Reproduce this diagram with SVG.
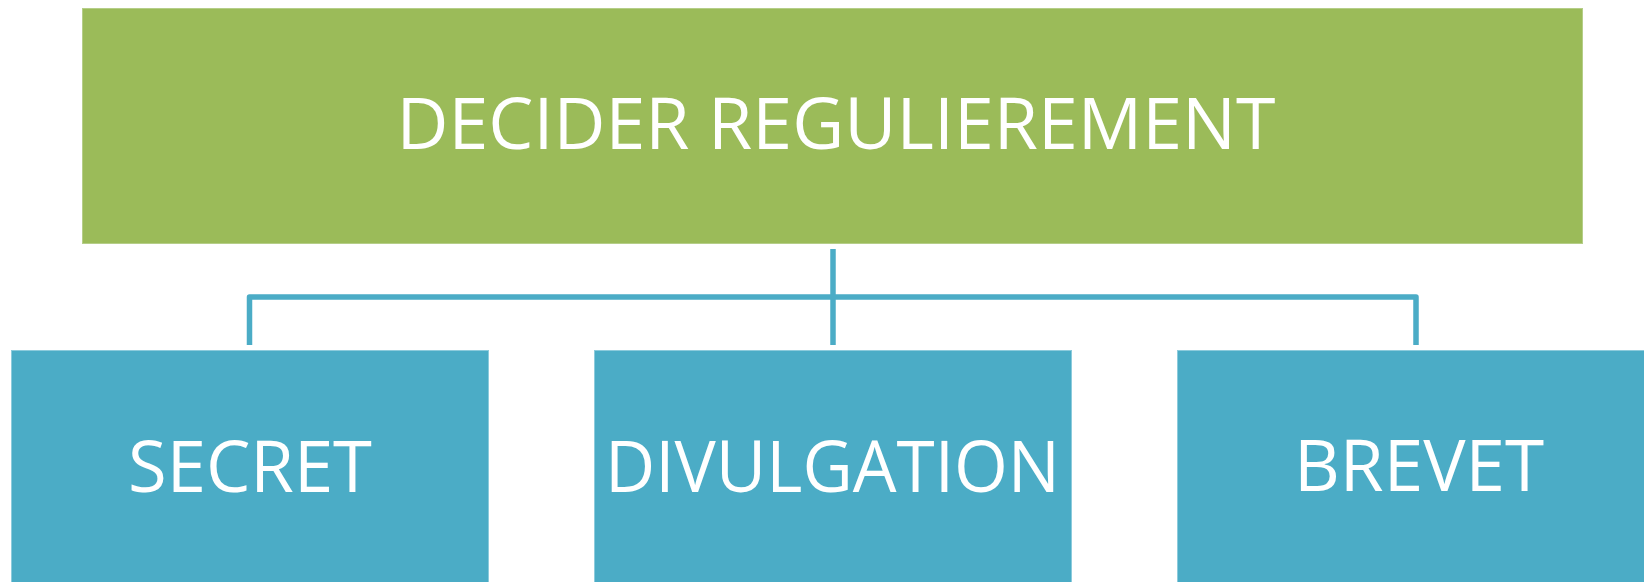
<svg xmlns="http://www.w3.org/2000/svg" width="1644" height="582" viewBox="0 0 1644 582">
<style>
.top{fill:#9BBB59;stroke:#B5CE88;stroke-width:1}
.box{fill:#4BACC6;stroke:#8CCBDC;stroke-width:1}
.lbl{font-family:"Open Sans","Liberation Sans",sans-serif;font-size:72px;fill:#FFFFFF;text-anchor:middle}
.conn{fill:none;stroke:#4BACC6;stroke-width:5.5;stroke-linejoin:round}
</style>
<rect width="1644" height="582" fill="#FFFFFF"/>
<g id="connectors">
<path class="conn" d="M833,249 V345"/>
<path class="conn" d="M249.5,345 V297 H1416 V345"/>
</g>
<g id="node-decider">
<rect class="top" x="82.5" y="8.5" width="1500" height="235"/>
<text class="lbl" x="836" y="149" textLength="879" lengthAdjust="spacingAndGlyphs">DECIDER REGULIEREMENT</text>
</g>
<g id="node-secret">
<rect class="box" x="11.5" y="350.5" width="477" height="250"/>
<text class="lbl" x="250" y="491.5" textLength="244" lengthAdjust="spacingAndGlyphs">SECRET</text>
</g>
<g id="node-divulgation">
<rect class="box" x="594.5" y="350.5" width="477" height="250"/>
<text class="lbl" x="832.5" y="491.5" textLength="455" lengthAdjust="spacingAndGlyphs">DIVULGATION</text>
</g>
<g id="node-brevet">
<rect class="box" x="1177.5" y="350.5" width="477" height="250"/>
<text class="lbl" x="1419" y="491" textLength="250" lengthAdjust="spacingAndGlyphs">BREVET</text>
</g>
</svg>
